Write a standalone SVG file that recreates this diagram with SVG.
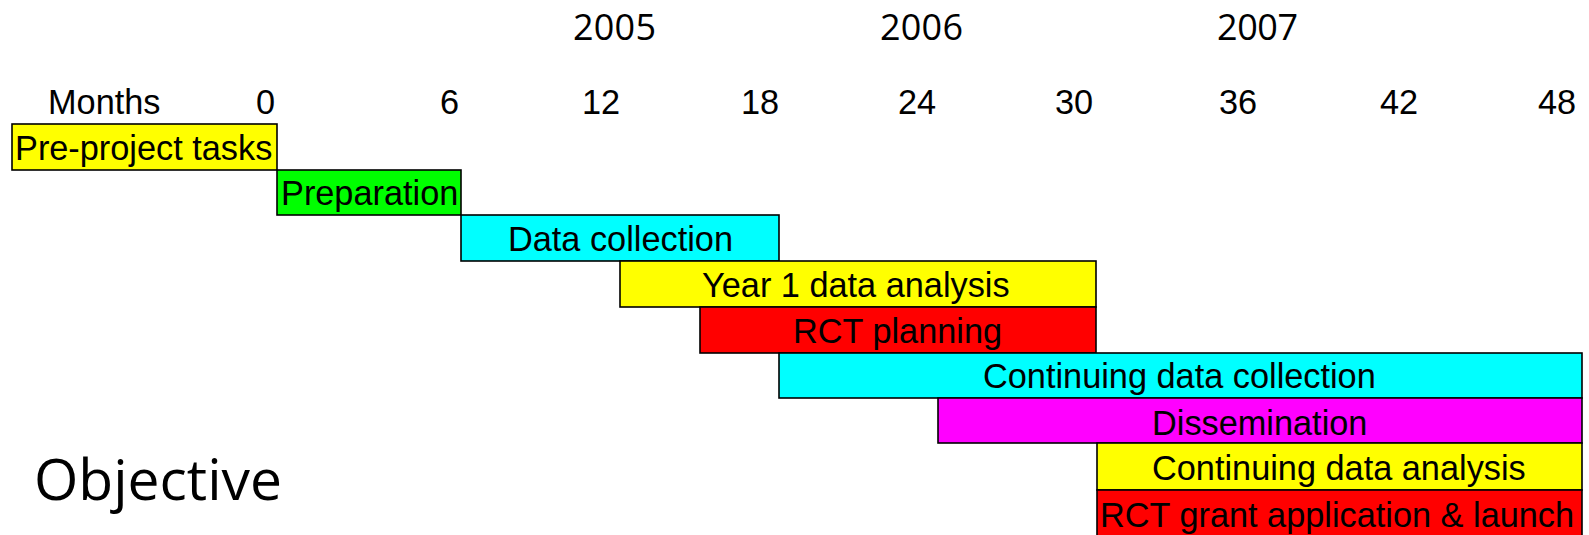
<svg xmlns="http://www.w3.org/2000/svg" width="1589" height="535" viewBox="0 0 1589 535">
<style>
.bar{stroke:#000;stroke-width:1.6}
.t{font-family:"Liberation Sans",Arial,sans-serif;font-size:34.3px;fill:#000}
.y{font-family:"Open Sans","Noto Sans",sans-serif;font-size:36px;fill:#000}
.o{font-family:"Open Sans","Noto Sans",sans-serif;font-size:57px;fill:#000}
</style>
<rect width="1589" height="535" fill="#fff"/>
<g id="years">
<text class="y" x="573" y="40" textLength="83">2005</text>
<text class="y" x="880" y="40" textLength="83">2006</text>
<text class="y" x="1217" y="40" textLength="81">2007</text>
</g>
<g id="months">
<text class="t" x="48" y="114">Months</text>
<text class="t" x="275" y="114" text-anchor="end">0</text>
<text class="t" x="459" y="114" text-anchor="end">6</text>
<text class="t" x="582" y="114">12</text>
<text class="t" x="741" y="114">18</text>
<text class="t" x="898" y="114">24</text>
<text class="t" x="1055" y="114">30</text>
<text class="t" x="1219" y="114">36</text>
<text class="t" x="1380" y="114">42</text>
<text class="t" x="1538" y="114">48</text>
</g>
<g id="connectors"></g>
<g id="pre-project">
<rect class="bar" x="12" y="124" width="265" height="46" fill="#ffff00"/>
<text class="t" x="15" y="160">Pre-project tasks</text>
</g>
<g id="preparation">
<rect class="bar" x="277" y="170" width="184" height="45" fill="#00ff00"/>
<text class="t" x="281" y="205">Preparation</text>
</g>
<g id="data-collection">
<rect class="bar" x="461" y="215" width="318" height="46" fill="#00ffff"/>
<text class="t" x="508" y="251">Data collection</text>
</g>
<g id="year1-analysis">
<rect class="bar" x="620" y="261" width="476" height="46" fill="#ffff00"/>
<text class="t" x="702" y="297">Year 1 data analysis</text>
</g>
<g id="rct-planning">
<rect class="bar" x="700" y="307" width="396" height="46" fill="#ff0000"/>
<text class="t" x="793" y="343">RCT planning</text>
</g>
<g id="continuing-collection">
<rect class="bar" x="779" y="353" width="803" height="45" fill="#00ffff"/>
<text class="t" x="983" y="388">Continuing data collection</text>
</g>
<g id="dissemination">
<rect class="bar" x="938" y="398" width="644" height="45" fill="#ff00ff"/>
<text class="t" x="1152" y="435">Dissemination</text>
</g>
<g id="continuing-analysis">
<rect class="bar" x="1097" y="443" width="485" height="47" fill="#ffff00"/>
<text class="t" x="1152" y="480">Continuing data analysis</text>
</g>
<g id="rct-grant">
<rect class="bar" x="1097" y="490" width="485" height="60" fill="#ff0000"/>
<text class="t" x="1100" y="527">RCT grant application &amp; launch</text>
</g>
<g id="objective">
<text class="o" x="34" y="500" textLength="248">Objective</text>
</g>
</svg>
